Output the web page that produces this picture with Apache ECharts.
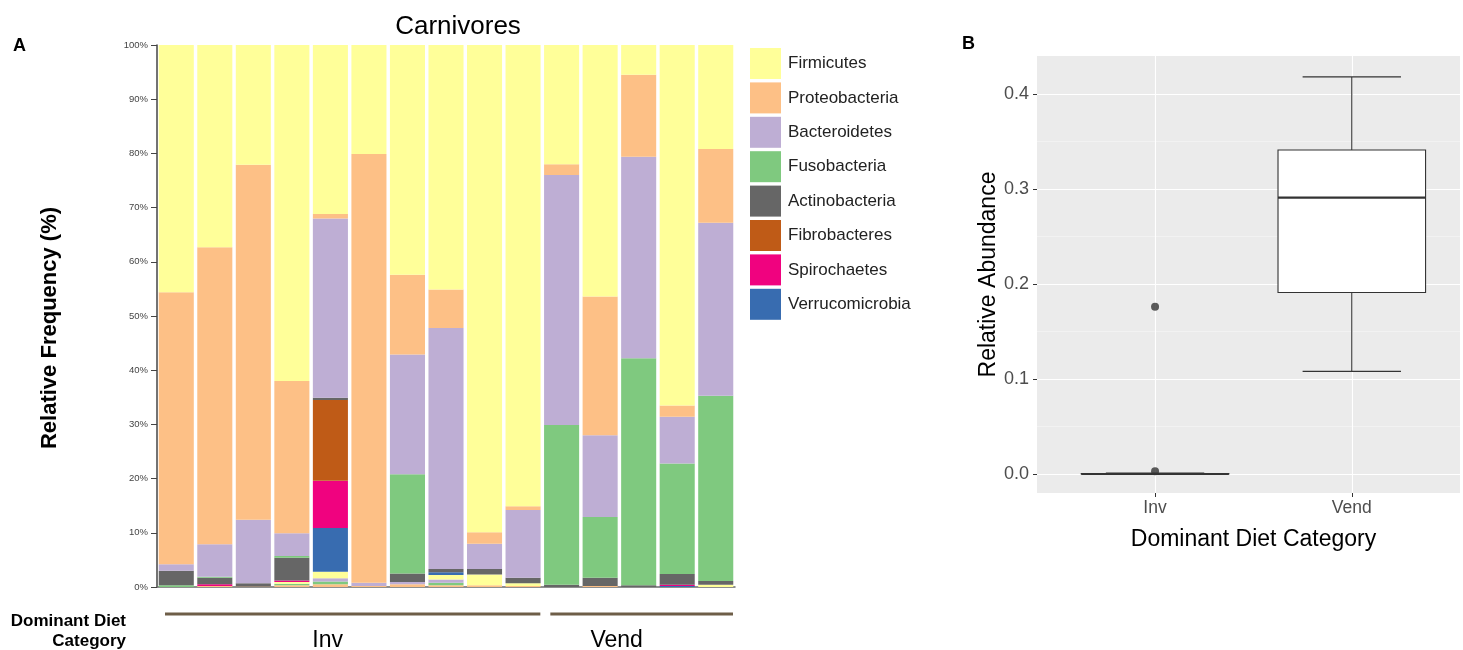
<!DOCTYPE html>
<html>
<head>
<meta charset="utf-8">
<script src="https://cdn.jsdelivr.net/npm/echarts@6/dist/echarts.min.js"></script>
<style>
html, body { margin: 0; padding: 0; background: #fff; }
#main { width: 1463px; height: 650px; }
</style>
</head>
<body>
<div id="main"></div>
<script>
// panel A: samples and their diet group
const samples = ['C1', 'C2', 'C3', 'C4', 'C5', 'C6', 'C7', 'C8', 'C9', 'C10', 'C11', 'C12', 'C13', 'C14', 'C15'];
const dietGroup = ['Inv', 'Inv', 'Inv', 'Inv', 'Inv', 'Inv', 'Inv', 'Inv', 'Inv', 'Inv', 'Vend', 'Vend', 'Vend', 'Vend', 'Vend'];

// relative frequency (%) per phylum, one value per sample
const firmicutes = [45.6, 37.3, 22.1, 62.0, 31.2, 20.1, 42.4, 45.1, 89.9, 85.1, 22.0, 46.4, 5.5, 66.5, 19.2];
const proteobacteria = [50.2, 54.8, 65.5, 28.1, 0.8, 79.1, 14.7, 7.1, 2.1, 0.7, 2.0, 25.6, 15.1, 2.1, 13.6];
const bacteroidetes = [1.2, 6.0, 11.7, 4.2, 33.1, 0.6, 22.1, 44.5, 4.7, 12.5, 46.1, 15.1, 37.2, 8.6, 31.9];
const fusobacteria = [0, 0.2, 0, 0.3, 0, 0, 18.3, 0, 0, 0, 29.5, 11.2, 41.9, 20.4, 34.2];
const actinobacteria = [2.7, 1.2, 0.6, 4.2, 0.4, 0, 1.6, 0.6, 1.0, 1.0, 0.4, 1.5, 0.3, 2.0, 0.7];
const fibrobacteres = [0, 0, 0, 0, 14.9, 0, 0, 0, 0, 0, 0, 0, 0, 0, 0];
const spirochaetes = [0, 0.3, 0, 0.3, 8.7, 0, 0, 0, 0, 0, 0, 0, 0, 0.2, 0];
const verrucomicrobia = [0, 0, 0, 0, 8.1, 0, 0, 0.5, 0, 0, 0, 0, 0, 0.2, 0];
// minor phyla (palette colours recycled, not in legend)
const minorA = [0, 0, 0, 0.3, 1.2, 0, 0, 0.8, 2.0, 0.5, 0, 0, 0, 0, 0.4];
const minorB = [0, 0, 0, 0, 0.6, 0, 0.4, 0.6, 0, 0, 0, 0, 0, 0, 0];
const minorC = [0.3, 0, 0, 0.3, 0.5, 0, 0, 0.5, 0, 0, 0, 0, 0, 0, 0];
const minorD = [0, 0.2, 0.1, 0.3, 0.5, 0.2, 0.5, 0.3, 0.3, 0.2, 0, 0.2, 0, 0, 0];

// panel B: box plot summary per diet category
const diets = ['Inv', 'Vend'];
const boxMin = [0, 0.108];
const boxQ1 = [0, 0.191];
const boxMedian = [0, 0.291];
const boxQ3 = [0.0005, 0.341];
const boxMax = [0.001, 0.418];
const outlierDiet = [0, 0];
const outlierValue = [0.176, 0.003];
const abundanceTicks = [0, 0.1, 0.2, 0.3, 0.4];
const abundanceMinorTicks = [0.05, 0.15, 0.25, 0.35];

const FONT = 'Liberation Sans, Arial, sans-serif';
const chart = echarts.init(document.getElementById('main'));

// bottom -> top stacking order
const stackSeries = [
    { name: 'minor D', data: minorD, color: '#FDC086' },
    { name: 'minor C', data: minorC, color: '#7FC97F' },
    { name: 'minor B', data: minorB, color: '#BEAED4' },
    { name: 'minor A', data: minorA, color: '#FFFF99' },
    { name: 'Verrucomicrobia', data: verrucomicrobia, color: '#386CB0' },
    { name: 'Spirochaetes', data: spirochaetes, color: '#F0027F' },
    { name: 'Fibrobacteres', data: fibrobacteres, color: '#BF5B17' },
    { name: 'Actinobacteria', data: actinobacteria, color: '#666666' },
    { name: 'Fusobacteria', data: fusobacteria, color: '#7FC97F' },
    { name: 'Bacteroidetes', data: bacteroidetes, color: '#BEAED4' },
    { name: 'Proteobacteria', data: proteobacteria, color: '#FDC086' },
    { name: 'Firmicutes', data: firmicutes, color: '#FFFF99' },
];

const barSeries = stackSeries.map(s => ({
    name: s.name,
    type: 'bar',
    stack: 'phyla',
    xAxisIndex: 0,
    yAxisIndex: 0,
    barCategoryGap: '9%',
    data: s.data,
    itemStyle: { color: s.color },
    emphasis: { disabled: true },
}));

const boxData = diets.map((d, i) => [i, boxMin[i], boxQ1[i], boxMedian[i], boxQ3[i], boxMax[i]]);

let option = {
    backgroundColor: '#fff',
    animation: false,
    textStyle: { fontFamily: FONT },
    title: {
        text: 'Carnivores',
        left: 453,
        top: 9,
        textAlign: 'center',
        textStyle: { fontSize: 26, fontWeight: 'normal', color: '#000', fontFamily: FONT },
    },
    legend: {
        data: ['Firmicutes', 'Proteobacteria', 'Bacteroidetes', 'Fusobacteria', 'Actinobacteria', 'Fibrobacteres', 'Spirochaetes', 'Verrucomicrobia'],
        orient: 'vertical',
        left: 745,
        top: 43,
        icon: 'rect',
        itemWidth: 31,
        itemHeight: 31,
        itemGap: 3.4,
        selectedMode: false,
        textStyle: { fontSize: 17, color: '#222', fontFamily: FONT, padding: [0, 0, 0, 2] },
    },
    grid: [
        { left: 157, top: 45, width: 578, height: 542, containLabel: false },
        { left: 1037, top: 56, width: 423, height: 437, containLabel: false, show: true, backgroundColor: '#EBEBEB', borderWidth: 0 },
    ],
    xAxis: [
        {
            type: 'category',
            gridIndex: 0,
            data: samples,
            axisLine: { lineStyle: { color: '#6b6b6b', width: 1.5 } },
            axisTick: { alignWithLabel: true, length: 3, lineStyle: { color: '#444' } },
            axisLabel: { show: false },
        },
        {
            type: 'value',
            gridIndex: 1,
            min: -0.6,
            max: 1.55,
            name: 'Dominant Diet Category',
            nameLocation: 'middle',
            nameGap: 35,
            nameTextStyle: { fontSize: 23, color: '#000', fontFamily: FONT, padding: [0, 0, 0, 10] },
            axisLine: { show: false, onZero: false },
            axisTick: { show: true, customValues: [0, 1], length: 4, lineStyle: { color: '#333' } },
            axisLabel: { customValues: [0, 1], formatter: v => diets[v], fontSize: 17.5, color: '#4D4D4D', margin: 6, fontFamily: FONT },
            splitLine: { show: true, lineStyle: { color: '#fff', width: 1.1 } },
        },
    ],
    yAxis: [
        {
            type: 'value',
            gridIndex: 0,
            min: 0,
            max: 100,
            interval: 10,
            axisLine: { show: true, lineStyle: { color: '#444', width: 1.5 } },
            axisTick: { show: true, length: 6, lineStyle: { color: '#444' } },
            axisLabel: { formatter: '{value}%', fontSize: 9.5, color: '#444', margin: 9, fontFamily: FONT },
            splitLine: { show: false },
        },
        {
            type: 'value',
            gridIndex: 1,
            min: -0.02,
            max: 0.44,
            name: 'Relative Abundance',
            nameLocation: 'middle',
            nameGap: 36,
            nameTextStyle: { fontSize: 23, color: '#000', fontFamily: FONT },
            axisLine: { show: false, onZero: false },
            axisTick: { show: true, customValues: abundanceTicks, length: 4, lineStyle: { color: '#333' } },
            axisLabel: { customValues: abundanceTicks, formatter: v => v.toFixed(1), fontSize: 18, color: '#4D4D4D', margin: 8, fontFamily: FONT },
            splitLine: { show: true, lineStyle: { color: '#fff', width: 1.1 } },
        },
        {
            type: 'value',
            gridIndex: 1,
            min: -0.02,
            max: 0.44,
            axisLine: { show: false, onZero: false },
            axisTick: { show: false, customValues: abundanceMinorTicks },
            axisLabel: { show: false },
            splitLine: { show: true, lineStyle: { color: '#F7F7F7', width: 0.6 } },
        },
    ],
    series: barSeries.concat([
        {
            name: 'box',
            type: 'custom',
            xAxisIndex: 1,
            yAxisIndex: 1,
            data: boxData,
            encode: { x: 0, y: [1, 2, 3, 4, 5] },
            renderItem: function (params, api) {
                const x = api.value(0);
                const unit = api.size([1, 0])[0];
                const half = unit * 0.375;
                const capHalf = unit * 0.25;
                const pMin = api.coord([x, api.value(1)]);
                const pQ1 = api.coord([x, api.value(2)]);
                const pMed = api.coord([x, api.value(3)]);
                const pQ3 = api.coord([x, api.value(4)]);
                const pMax = api.coord([x, api.value(5)]);
                const cx = pMin[0];
                const st = { stroke: '#333', lineWidth: 1.1, fill: null };
                return {
                    type: 'group',
                    children: [
                        { type: 'line', shape: { x1: cx, y1: pMin[1], x2: cx, y2: pQ1[1] }, style: st },
                        { type: 'line', shape: { x1: cx, y1: pQ3[1], x2: cx, y2: pMax[1] }, style: st },
                        { type: 'line', shape: { x1: cx - capHalf, y1: pMin[1], x2: cx + capHalf, y2: pMin[1] }, style: st },
                        { type: 'line', shape: { x1: cx - capHalf, y1: pMax[1], x2: cx + capHalf, y2: pMax[1] }, style: st },
                        { type: 'rect', shape: { x: cx - half, y: pQ3[1], width: half * 2, height: pQ1[1] - pQ3[1] }, style: { fill: '#fff', stroke: '#333', lineWidth: 1.1 } },
                        { type: 'line', shape: { x1: cx - half, y1: pMed[1], x2: cx + half, y2: pMed[1] }, style: { stroke: '#333', lineWidth: 2.2 } },
                    ],
                };
            },
            z: 3,
        },
        {
            name: 'outliers',
            type: 'scatter',
            xAxisIndex: 1,
            yAxisIndex: 1,
            data: outlierDiet.map((d, i) => [d, outlierValue[i]]),
            symbolSize: 8,
            itemStyle: { color: '#333' },
            z: 4,
        },
    ]),
};

chart.setOption(option);

// group annotation under panel A, positioned through the category axis
function groupGraphics() {
    const p0 = chart.convertToPixel({ xAxisIndex: 0 }, 0);
    const p1 = chart.convertToPixel({ xAxisIndex: 0 }, 1);
    const band = p1 - p0;
    const groups = [];
    dietGroup.forEach((g, i) => {
        const last = groups[groups.length - 1];
        if (last && last.name === g) last.end = i;
        else groups.push({ name: g, start: i, end: i });
    });
    const els = [];
    groups.forEach(g => {
        const xs = chart.convertToPixel({ xAxisIndex: 0 }, g.start) - band / 2 + 8;
        const xe = chart.convertToPixel({ xAxisIndex: 0 }, g.end) + band / 2 - 2;
        els.push({ type: 'line', shape: { x1: xs, y1: 614, x2: xe, y2: 614 }, style: { stroke: '#6E5E48', lineWidth: 3 } });
        els.push({ type: 'text', x: (xs + xe) / 2 - 25, y: 641, style: { text: g.name, font: '23px ' + FONT, fill: '#000', textAlign: 'center', textVerticalAlign: 'middle' } });
    });
    els.push({ type: 'text', x: 126, y: 621, style: { text: 'Dominant Diet', font: 'bold 17px ' + FONT, fill: '#000', textAlign: 'right', textVerticalAlign: 'middle' } });
    els.push({ type: 'text', x: 126, y: 641, style: { text: 'Category', font: 'bold 17px ' + FONT, fill: '#000', textAlign: 'right', textVerticalAlign: 'middle' } });
    els.push({ type: 'text', x: 13, y: 46, style: { text: 'A', font: 'bold 18px ' + FONT, fill: '#000', textVerticalAlign: 'middle' } });
    els.push({ type: 'text', x: 962, y: 44, style: { text: 'B', font: 'bold 18px ' + FONT, fill: '#000', textVerticalAlign: 'middle' } });
    els.push({ type: 'text', x: 50, y: 328, rotation: Math.PI / 2, style: { text: 'Relative Frequency (%)', font: 'bold 22px ' + FONT, fill: '#000', textAlign: 'center', textVerticalAlign: 'middle' } });
    return els;
}

chart.setOption({ graphic: groupGraphics() });
</script>
</body>
</html>
